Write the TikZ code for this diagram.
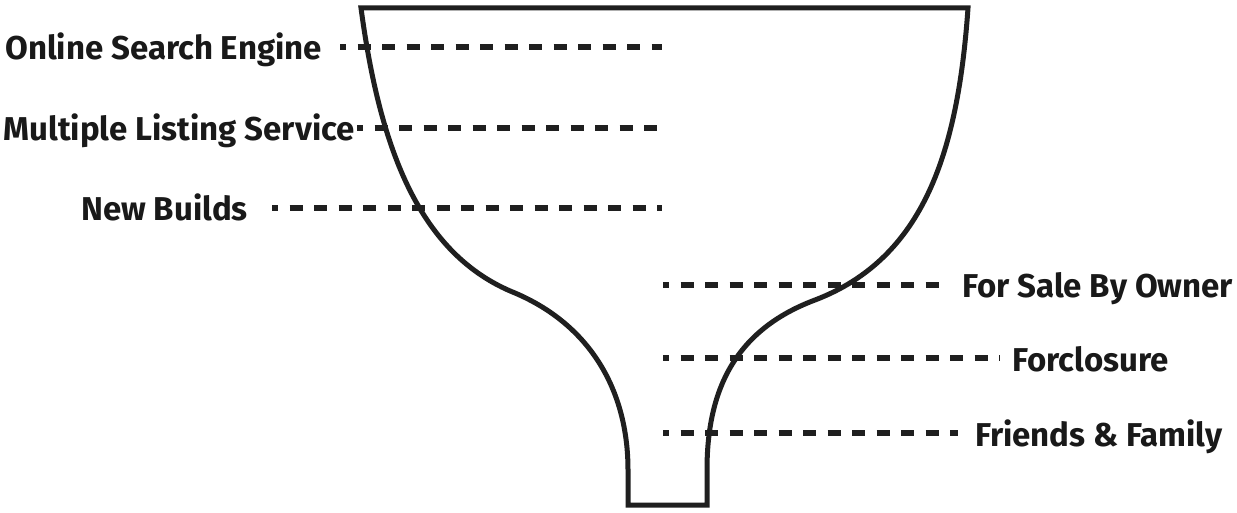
\documentclass[tikz,border=0pt]{standalone}
\usepackage{fontspec}
\newfontfamily\lblfont{Fira Sans}
\begin{document}
\begin{tikzpicture}[x=1pt,y=-1pt,
  lbl/.style={font=\lblfont\bfseries\fontsize{33}{38}\selectfont, inner sep=0pt, text=black!90},
  dots/.style={line width=6pt, draw=black!88, dash pattern=on 13pt off 11.5pt, dash phase=7pt},
  funnel/.style={line width=5pt, draw=black!88, line join=miter}]
\useasboundingbox[fill=white] (0,0) rectangle (1237,513);
% labels
\node[lbl, anchor=base east] (on) at (322,60) {Online Search Engine};
\node[lbl, anchor=base east] (mls) at (355,141) {Multiple Listing Service};
\node[lbl, anchor=base east] (nb) at (248,221) {New Builds};
\node[lbl, anchor=base west] (fsbo) at (962,298) {For Sale By Owner};
\node[lbl, anchor=base west] (fc) at (1012,371) {Forclosure};
\node[lbl, anchor=base west] (ff) at (975,446) {Friends \& Family};
% line ends
\coordinate (onS) at (340,47);  \coordinate (onE) at (662,47);
\coordinate (mlsS) at (357,128); \coordinate (mlsE) at (662,128);
\coordinate (nbS) at (272,208); \coordinate (nbE) at (662,208);
\coordinate (fsboS) at (663,285); \coordinate (fsboE) at (943,285);
\coordinate (fcS) at (663,358); \coordinate (fcE) at (1000,358);
\coordinate (ffS) at (663,433); \coordinate (ffE) at (958,433);
\draw[dots] (onS) -- (onE);
\draw[dots] (mlsS) -- (mlsE);
\draw[dots] (nbS) -- (nbE);
\draw[dots] (fsboS) -- (fsboE);
\draw[dots] (fcS) -- (fcE);
\draw[dots] (ffS) -- (ffE);
% funnel
\draw[funnel] (361,8) .. controls (380,150) and (420,255) .. (515,293)
  .. controls (590,325) and (628,390) .. (628,470) -- (628,505) -- (707,505) -- (707,470)
  .. controls (707,390) and (735,330) .. (815,300)
  .. controls (925,258) and (958,150) .. (968,8) -- cycle;
\end{tikzpicture}
\end{document}
